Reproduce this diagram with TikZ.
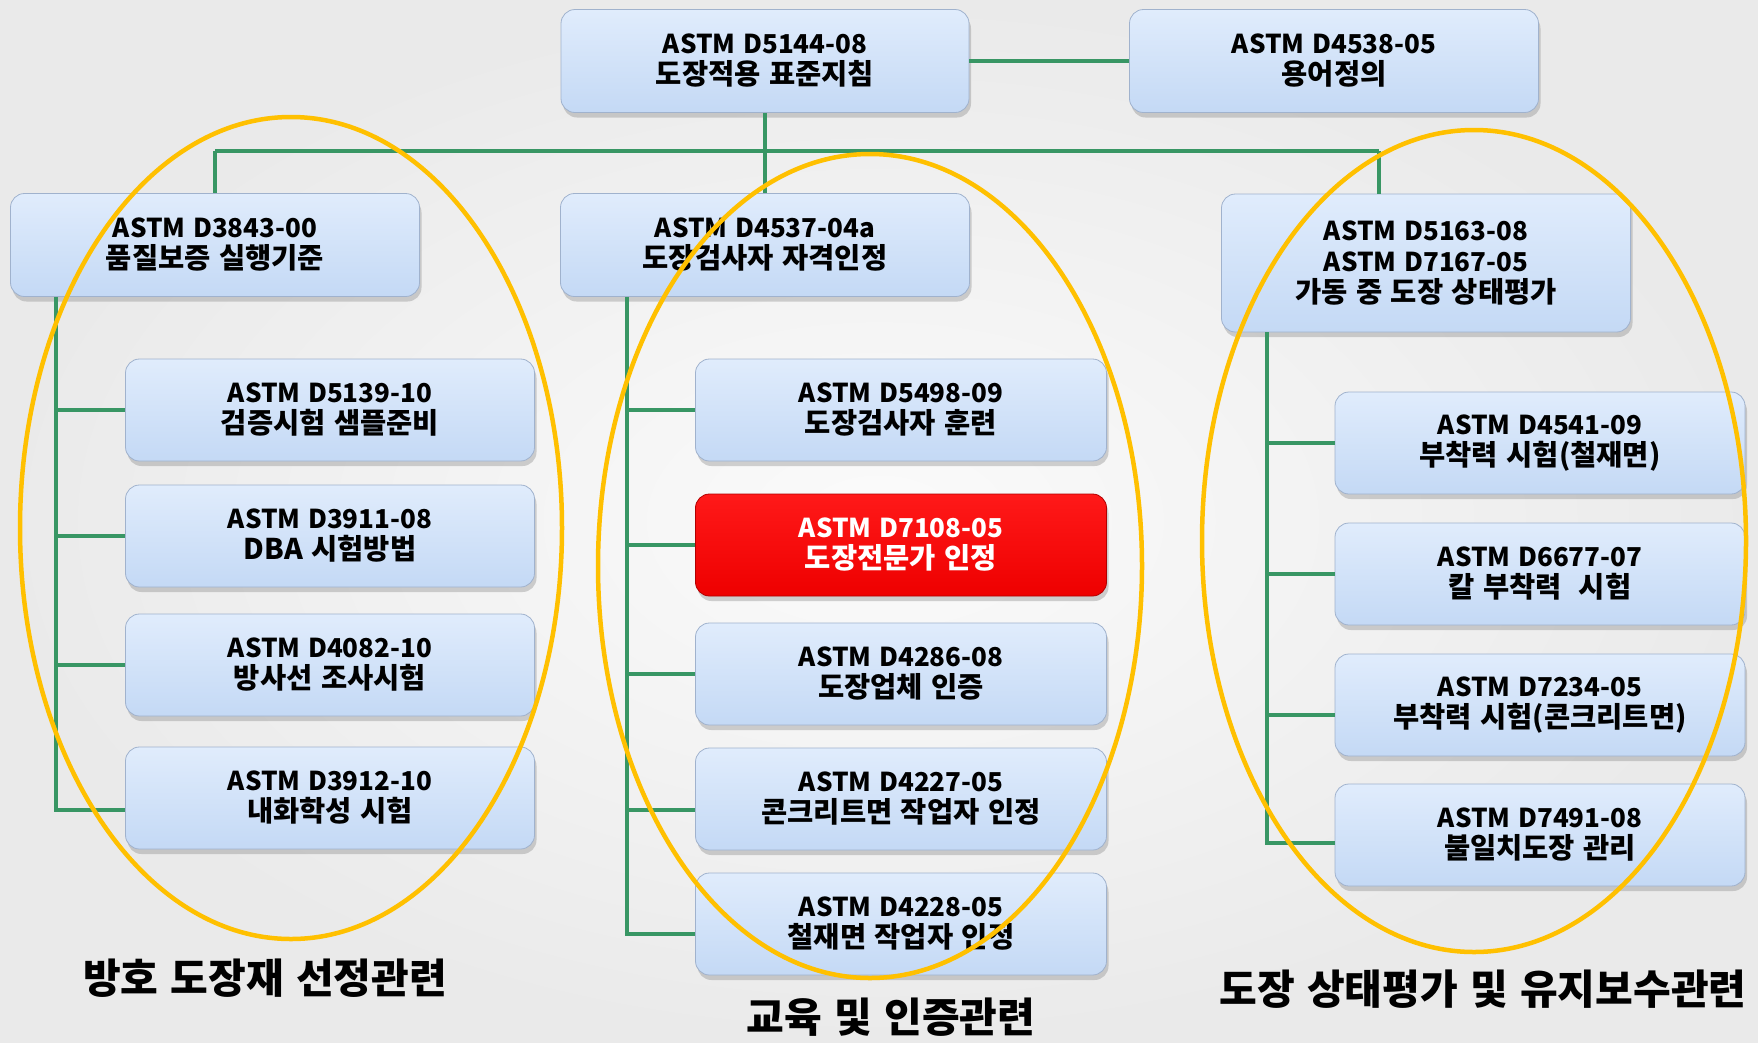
\documentclass[tikz,border=0pt]{standalone}
\usepackage{fontspec}
\setmainfont{Noto Sans CJK KR}[WordSpace=1.3]
\usetikzlibrary{shadows}
\definecolor{boxTop}{RGB}{224,236,252}
\definecolor{boxBot}{RGB}{196,217,245}
\definecolor{boxEdge}{RGB}{160,178,205}
\definecolor{trunk}{RGB}{56,150,100}
\definecolor{ellc}{RGB}{255,192,0}
\definecolor{redTop}{RGB}{255,25,25}
\definecolor{redBot}{RGB}{238,0,0}
\definecolor{bgIn}{RGB}{251,251,251}
\definecolor{bgOut}{RGB}{234,234,234}
\newcommand{\krl}[1]{{\fontsize{28.5}{31}\selectfont #1}}
\begin{document}
\begin{tikzpicture}[x=1pt,y=-1pt,
  stdbox/.style={rectangle, rounded corners=14pt, minimum width=409pt, minimum height=102pt,
    inner sep=0pt, top color=boxTop, bottom color=boxBot, draw=boxEdge, line width=0.8pt,
    drop shadow={opacity=0.35, shadow xshift=2pt, shadow yshift=-5pt},
    font=\fontsize{26}{31}\selectfont\bfseries, align=center, text=black},
  redbox/.style={stdbox, top color=redTop, bottom color=redBot, draw=red!70!black, text=white},
  link/.style={draw=trunk, line width=4pt},
  ell/.style={draw=ellc, line width=4.5pt},
  grouplabel/.style={font=\fontsize{41}{44}\selectfont\bfseries, inner sep=0pt, text=black}
]
\useasboundingbox (0,0) rectangle (1758,1042);
\shade[inner color=bgIn, outer color=bgOut] (0,0) rectangle (1758,1042);

% top level
\node[stdbox, minimum width=408pt, minimum height=103pt] (d5144) at (765,61) {ASTM D5144-08\\\krl{도장적용 표준지침}};
\node[stdbox, minimum height=103pt] (d4538) at (1334,61) {ASTM D4538-05\\\krl{용어정의}};
\node[stdbox, minimum height=103pt] (d3843) at (215,245) {ASTM D3843-00\\\krl{품질보증 실행기준}};
\node[stdbox, minimum height=103pt] (d4537) at (765,245) {ASTM D4537-04a\\\krl{도장검사자 자격인정}};
\node[stdbox, minimum height=138pt] (d5163) at (1426,263) {ASTM D5163-08\\ASTM D7167-05\\\krl{가동 중 도장 상태평가}};

% left column
\node[stdbox] (d5139) at (330,410) {ASTM D5139-10\\\krl{검증시험 샘플준비}};
\node[stdbox] (d3911) at (330,536) {ASTM D3911-08\\\krl{DBA 시험방법}};
\node[stdbox] (d4082) at (330,665) {ASTM D4082-10\\\krl{방사선 조사시험}};
\node[stdbox] (d3912) at (330,798) {ASTM D3912-10\\\krl{내화학성 시험}};

% middle column
\node[stdbox, minimum width=411pt] (d5498) at (901,410) {ASTM D5498-09\\\krl{도장검사자 훈련}};
\node[redbox, minimum width=411pt] (d7108) at (901,545) {ASTM D7108-05\\\krl{도장전문가 인정}};
\node[stdbox, minimum width=411pt] (d4286) at (901,674) {ASTM D4286-08\\\krl{도장업체 인증}};
\node[stdbox, minimum width=411pt] (d4227) at (901,799) {ASTM D4227-05\\\krl{콘크리트면 작업자 인정}};
\node[stdbox, minimum width=411pt] (d4228) at (901,924) {ASTM D4228-05\\\krl{철재면 작업자 인정}};

% right column
\node[stdbox, minimum width=410pt] (d4541) at (1540,443) {ASTM D4541-09\\\krl{부착력 시험(철재면)}};
\node[stdbox, minimum width=410pt] (d6677) at (1540,574) {ASTM D6677-07\\\krl{칼 부착력~~시험}};
\node[stdbox, minimum width=410pt] (d7234) at (1540,705) {ASTM D7234-05\\\krl{부착력 시험(콘크리트면)}};
\node[stdbox, minimum width=410pt] (d7491) at (1540,835) {ASTM D7491-08\\\krl{불일치도장 관리}};

% connectors
\coordinate (busL) at (215,151);
\coordinate (busR) at (1379,151);
\coordinate (tL) at (56,0);
\coordinate (tM) at (627,0);
\coordinate (tR) at (1267,0);
\draw[link] (d5144.east) -- (d4538.west);
\draw[link] (d5144.south) -- (d4537.north);
\draw[link] (busL) -- (busR);
\draw[link] (busL) -- (d3843.north);
\draw[link] (busR) -- (busR |- d5163.north);

\draw[link] (d3843.south -| tL) |- ([yshift=-12pt]d3912.west);
\draw[link] (d5139.west -| tL) -- (d5139.west);
\draw[link] (d3911.west -| tL) -- (d3911.west);
\draw[link] (d4082.west -| tL) -- (d4082.west);

\draw[link] (d4537.south -| tM) |- ([yshift=-10pt]d4228.west);
\draw[link] (d5498.west -| tM) -- (d5498.west);
\draw[link] (d7108.west -| tM) -- (d7108.west);
\draw[link] (d4286.west -| tM) -- (d4286.west);
\draw[link] ([yshift=-11pt]d4227.west -| tM) -- ([yshift=-11pt]d4227.west);

\draw[link] (d5163.south -| tR) |- ([yshift=-8pt]d7491.west);
\draw[link] (d4541.west -| tR) -- (d4541.west);
\draw[link] (d6677.west -| tR) -- (d6677.west);
\draw[link] ([yshift=-10pt]d7234.west -| tR) -- ([yshift=-10pt]d7234.west);

% group ellipses
\draw[ell] (291,528) ellipse [x radius=271pt, y radius=411pt];
\draw[ell] (870,566) ellipse [x radius=272pt, y radius=412pt];
\draw[ell] (1474,541) ellipse [x radius=272pt, y radius=411pt];

% group labels
\node[grouplabel] (g1) at (265,978) {방호 도장재 선정관련};
\node[grouplabel] (g2) at (891,1017) {교육 및 인증관련};
\node[grouplabel] (g3) at (1483,989) {도장 상태평가 및 유지보수관련};
\end{tikzpicture}
\end{document}
